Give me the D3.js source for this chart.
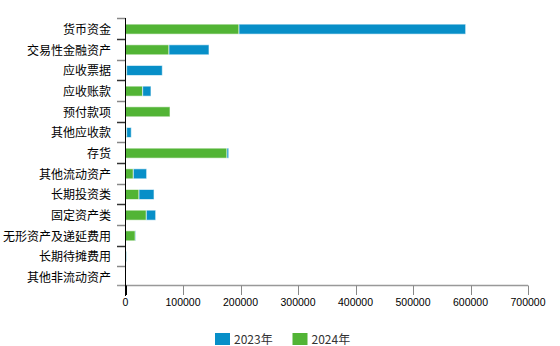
<!DOCTYPE html>
<html><head><meta charset="utf-8">
<script src="https://cdn.jsdelivr.net/npm/d3@7/dist/d3.min.js"></script>
<style>body{margin:0;background:#fff}svg{display:block}</style>
</head><body><svg id="c" width="560" height="346"></svg>
<script>
const categories = ["货币资金","交易性金融资产","应收票据","应收账款","预付款项","其他应收款","存货","其他流动资产","长期投资类","固定资产类","无形资产及递延费用","长期待摊费用","其他非流动资产"];
const values2024 = [197400, 75600, 2000, 29900, 77400, 2000, 176500, 13600, 23500, 36200, 17000, 1500, 300];
const values2023 = [394200, 69600, 62000, 14400, 0, 8000, 3000, 23200, 26100, 16300, 1000, 500, 0];
const xTicks = [0,100000,200000,300000,400000,500000,600000,700000];
const seriesNames = ["2023年","2024年"];
const colors = {"2023年":"#078fc8","2024年":"#52b435"};

const svg = d3.select("#c");
const x = d3.scaleLinear().domain([0,700000]).range([125.5,528]);
const y = d3.scaleBand().domain(categories).range([18.3,287]).paddingInner(0).paddingOuter(0);

// bars: 2024 first from zero, 2023 stacked after
const g = svg.append("g");
categories.forEach((c,i)=>{
  const yc = y(c) + y.bandwidth()/2 + 0.5;
  const segs = [
    {s:"2024年", x0:0, x1:values2024[i]},
    {s:"2023年", x0:values2024[i], x1:values2024[i]+values2023[i]}
  ];
  segs.forEach(d=>{
    if (d.x1 - d.x0 <= 0) return;
    g.append("rect")
      .attr("x", x(d.x0)).attr("y", yc-5)
      .attr("width", Math.max(0.5, x(d.x1)-x(d.x0))).attr("height", 10)
      .attr("fill", colors[d.s])
      .attr("stroke", "rgba(255,255,255,0.6)").attr("stroke-width", 1);
  });
});

// x axis
const xa = svg.append("g");
xa.append("line").attr("x1",117).attr("x2",x(700000)).attr("y1",285.5).attr("y2",285.5)
  .attr("stroke","#999").attr("stroke-width",1.5);
xTicks.forEach(t=>{
  xa.append("line").attr("x1",Math.round(x(t))+0.5).attr("x2",Math.round(x(t))+0.5).attr("y1",285.5).attr("y2",295)
    .attr("stroke", t===0?"#000":"#888").attr("stroke-width",1);
  xa.append("text").attr("x",x(t)).attr("y",306).attr("text-anchor","middle")
    .attr("font-family","Liberation Sans, Arial, sans-serif").attr("font-size","10.5px").attr("fill","#000").text(t);
});

// y axis
const ya = svg.append("g");
const bounds = categories.map(c=>y(c)).concat([y.range()[1]]);
bounds.forEach((b,i)=>{
  if (i===bounds.length-1) return;
  ya.append("line").attr("x1",117).attr("x2",125.5).attr("y1",Math.round(b)+0.5).attr("y2",Math.round(b)+0.5)
    .attr("stroke", i%2===0?"#888":"#333").attr("stroke-width",1.5);
});
ya.append("line").attr("x1",125.5).attr("x2",125.5).attr("y1",18).attr("y2",296).attr("stroke","#000").attr("stroke-width",1);
categories.forEach(c=>{
  ya.append("text").attr("x",111).attr("y",y(c)+y.bandwidth()/2+5.5).attr("text-anchor","end")
    .attr("font-family","Noto Sans CJK SC, sans-serif").attr("font-size","12px").attr("fill","#000").text(c);
});

// legend
const lg = svg.append("g");
const lx = [215, 292.5];
seriesNames.forEach((s,i)=>{
  lg.append("rect").attr("x",lx[i]).attr("y",333).attr("width",15).attr("height",12).attr("fill",colors[s]);
  lg.append("text").attr("x",lx[i]+19).attr("y",344).attr("font-family","Noto Sans CJK SC, sans-serif")
    .attr("font-size","12px").attr("fill","#333").text(s);
});
</script></body></html>
